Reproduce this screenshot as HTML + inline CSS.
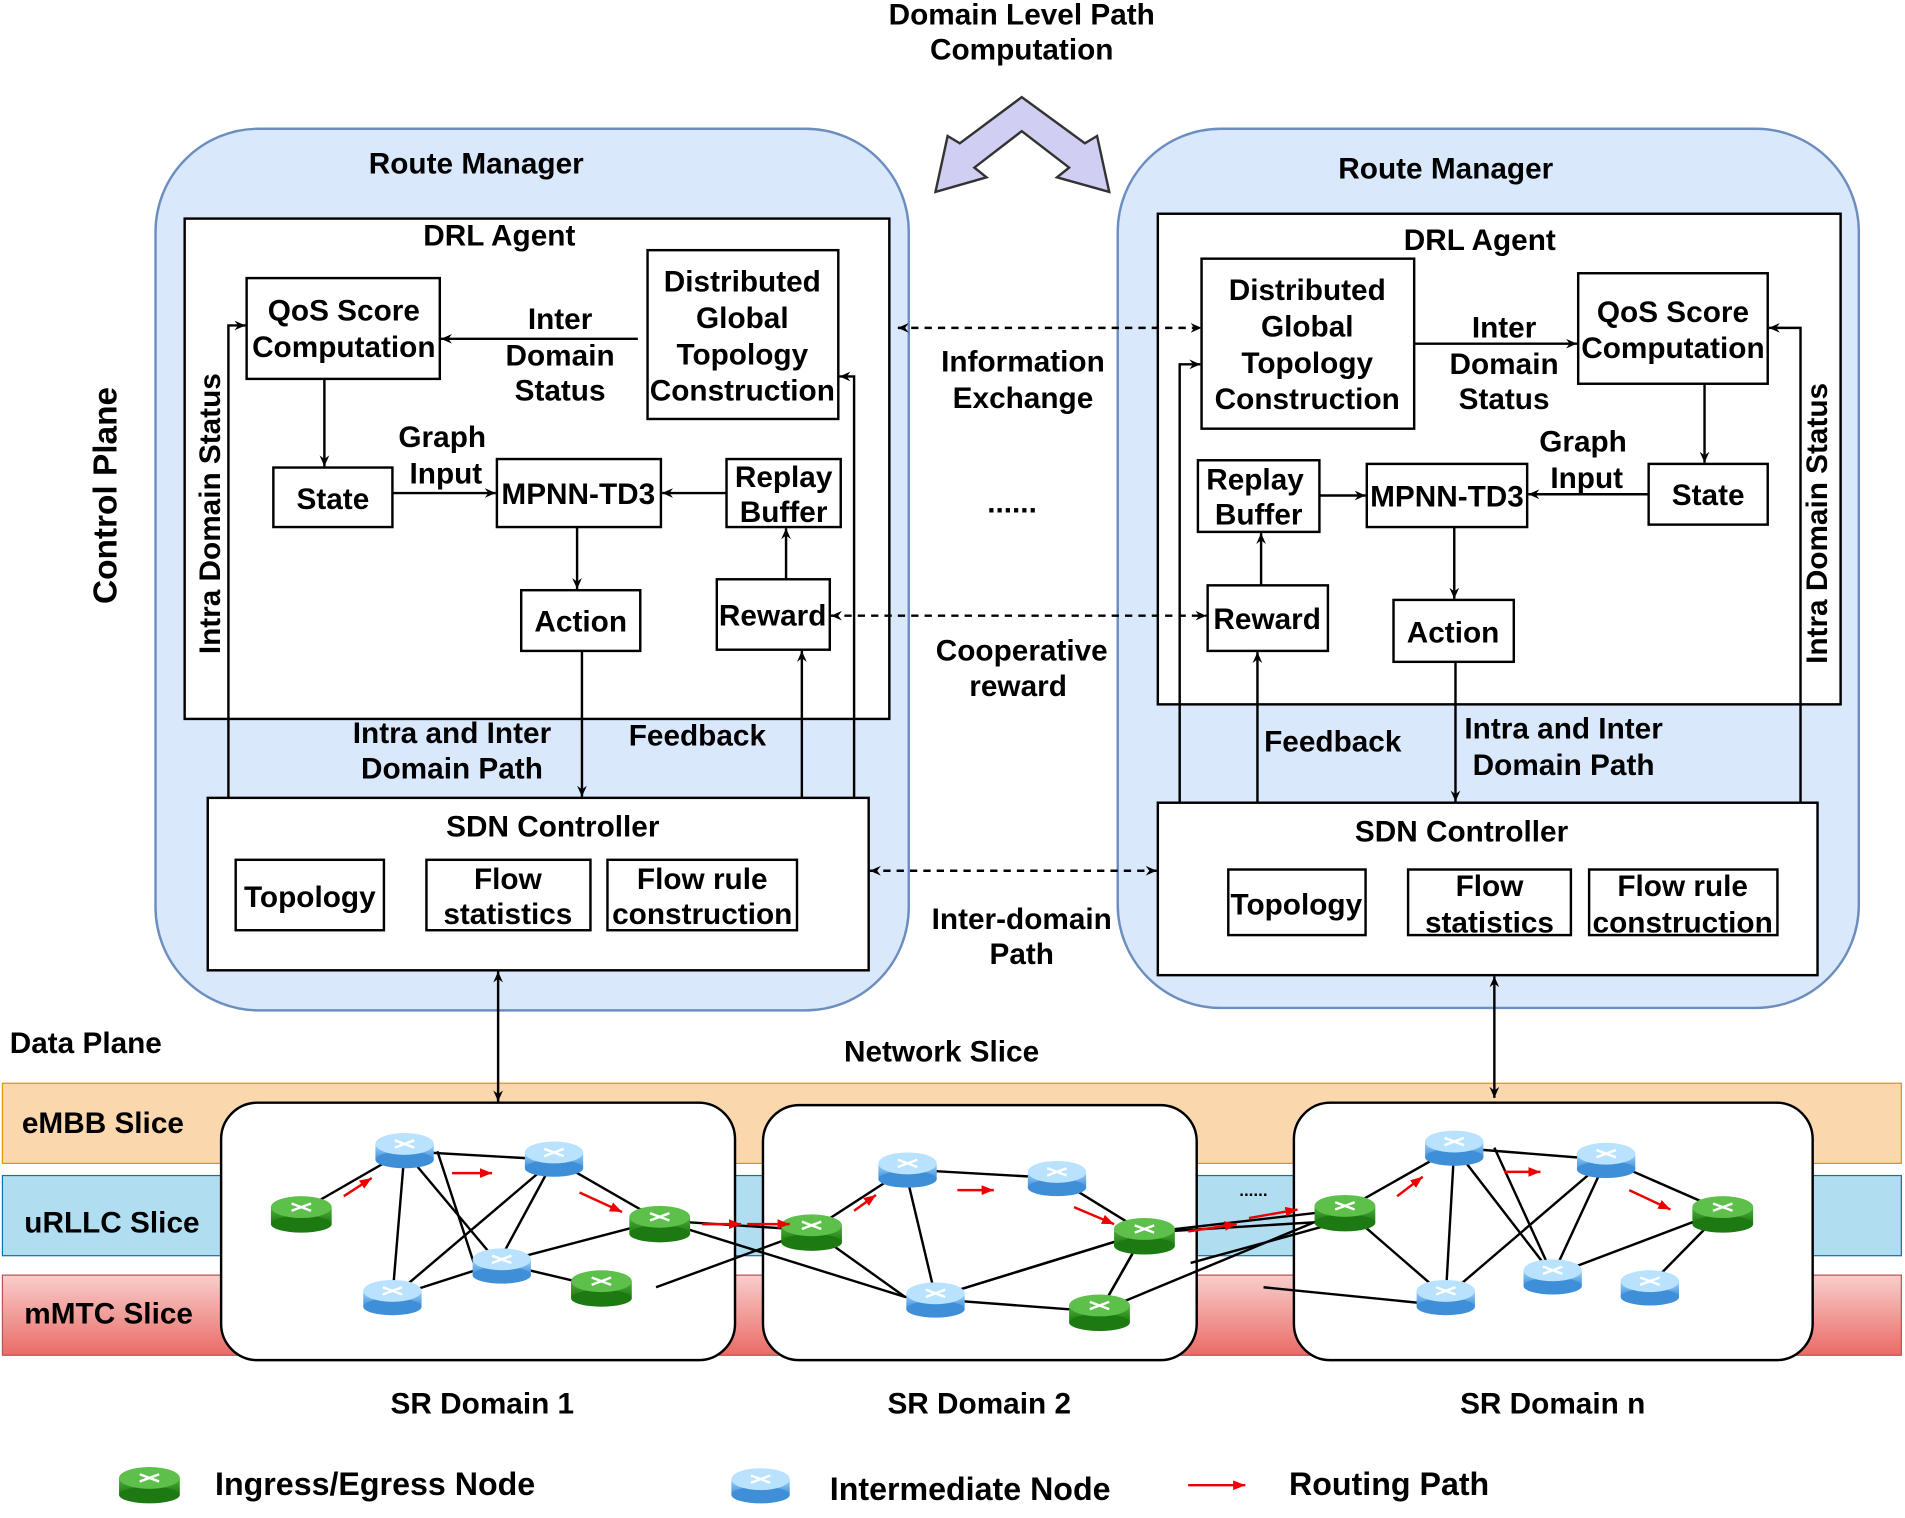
<!DOCTYPE html>
<html><head><meta charset="utf-8"><style>
html,body{margin:0;padding:0;background:#fff;}
svg{display:block;}
text{font-family:"Liberation Sans",Arial,sans-serif;font-weight:bold;fill:#000;}
</style></head><body>
<svg width="1905" height="1518" viewBox="0 0 1568 1250" preserveAspectRatio="none" xmlns="http://www.w3.org/2000/svg">
<defs>
<marker id="a" markerWidth="10" markerHeight="10" refX="9" refY="5" orient="auto" markerUnits="userSpaceOnUse"><path d="M0,1 L9,5 L0,9 L3,5 z" fill="#000"/></marker>
<marker id="as" markerWidth="10" markerHeight="10" refX="1" refY="5" orient="auto" markerUnits="userSpaceOnUse"><path d="M10,1 L1,5 L10,9 L7,5 z" fill="#000"/></marker>
<marker id="r" markerWidth="12" markerHeight="10" refX="10" refY="5" orient="auto" markerUnits="userSpaceOnUse"><path d="M0,1 L10,5 L0,9 z" fill="#e00"/></marker>
<linearGradient id="m" x1="0" y1="0" x2="0" y2="1"><stop offset="0" stop-color="#f8cecc"/><stop offset="1" stop-color="#ea6b66"/></linearGradient>
<linearGradient id="gr" x1="0" y1="0" x2="0" y2="1"><stop offset="0" stop-color="#4caf3a"/><stop offset="1" stop-color="#1d7a12"/></linearGradient>
<linearGradient id="bl" x1="0" y1="0" x2="0" y2="1"><stop offset="0" stop-color="#9fd3fb"/><stop offset="1" stop-color="#3f8fd8"/></linearGradient>
<g id="g"><rect x="-25" y="-3" width="50" height="14" fill="url(#gr)"/><ellipse cx="0" cy="11" rx="25" ry="7" fill="#1d7a12"/><ellipse cx="0" cy="-3" rx="25" ry="9" fill="#5cc04a"/><path d="M-8,-6 L8,0 M8,-6 L-8,0" stroke="#fff" stroke-width="2"/></g>
<g id="b"><rect x="-24" y="-3" width="48" height="13" fill="url(#bl)"/><ellipse cx="0" cy="10" rx="24" ry="7" fill="#3f8fd8"/><ellipse cx="0" cy="-3" rx="24" ry="9" fill="#b9e2ff"/><path d="M-8,-6 L8,0 M8,-6 L-8,0" stroke="#fff" stroke-width="2"/></g>
</defs>

<rect x="2" y="892" width="1563" height="66" fill="#fad7ac" stroke="#d79b00" stroke-width="1"/>
<rect x="2" y="968" width="1563" height="66" fill="#b1ddf0" stroke="#10739e" stroke-width="1"/>
<rect x="2" y="1050" width="1563" height="66" fill="url(#m)" stroke="#b85450" stroke-width="1"/>
<text x="18" y="933" font-size="24.5">eMBB Slice</text>
<text x="20" y="1015" font-size="24.5">uRLLC Slice</text>
<text x="20" y="1090" font-size="24.5">mMTC Slice</text>

<rect x="128" y="106" width="620" height="726" rx="85" fill="#dae8fc" stroke="#6c8ebf" stroke-width="2"/>
<rect x="920" y="106" width="610" height="724" rx="85" fill="#dae8fc" stroke="#6c8ebf" stroke-width="2"/>
<text x="392" y="143" font-size="24.5" text-anchor="middle">Route Manager</text>
<text x="1190" y="147" font-size="24.5" text-anchor="middle">Route Manager</text>

<rect x="152" y="180" width="580" height="412" fill="#fff" stroke="#000" stroke-width="2"/>
<rect x="953" y="176" width="562" height="404" fill="#fff" stroke="#000" stroke-width="2"/>
<text x="411" y="202" font-size="24.5" text-anchor="middle">DRL Agent</text>
<text x="1218" y="206" font-size="24.5" text-anchor="middle">DRL Agent</text>

<g fill="#fff" stroke="#000" stroke-width="2">
<rect x="203" y="229" width="159" height="83"/>
<rect x="533" y="206" width="157" height="139"/>
<rect x="225" y="385" width="98" height="49"/>
<rect x="409" y="378" width="135" height="56"/>
<rect x="598" y="378" width="94" height="56"/>
<rect x="429" y="486" width="98" height="50"/>
<rect x="590" y="477" width="93" height="58"/>
<rect x="171" y="657" width="544" height="142"/>
<rect x="194" y="708" width="122" height="58"/>
<rect x="351" y="708" width="135" height="58"/>
<rect x="500" y="708" width="156" height="58"/>
<rect x="989" y="213" width="175" height="140"/>
<rect x="1299" y="225" width="156" height="91"/>
<rect x="986" y="379" width="100" height="59"/>
<rect x="1125" y="382" width="132" height="52"/>
<rect x="1357" y="382" width="98" height="50"/>
<rect x="994" y="482" width="99" height="54"/>
<rect x="1147" y="494" width="99" height="51"/>
<rect x="953" y="661" width="543" height="142"/>
<rect x="1011" y="716" width="113" height="54"/>
<rect x="1159" y="716" width="134" height="54"/>
<rect x="1308" y="716" width="155" height="54"/>
</g>

<g font-size="24.5" text-anchor="middle">
<text x="283" y="264">QoS Score</text><text x="283" y="294">Computation</text>
<text x="611" y="240">Distributed</text><text x="611" y="270">Global</text><text x="611" y="300">Topology</text><text x="611" y="330">Construction</text>
<text x="274" y="419">State</text>
<text x="476" y="415">MPNN-TD3</text>
<text x="645" y="401">Replay</text><text x="645" y="430">Buffer</text>
<text x="478" y="520">Action</text>
<text x="636" y="515">Reward</text>
<text x="461" y="271">Inter</text><text x="461" y="301">Domain</text><text x="461" y="330">Status</text>
<text x="364" y="368">Graph</text><text x="367" y="398">Input</text>
<text x="372" y="612">Intra and Inter</text><text x="372" y="641">Domain Path</text>
<text x="574" y="614">Feedback</text>
<text x="455" y="689">SDN Controller</text>
<text x="255" y="747">Topology</text>
<text x="418" y="732">Flow</text><text x="418" y="761">statistics</text>
<text x="578" y="732">Flow rule</text><text x="578" y="761">construction</text>

<text x="1076" y="247">Distributed</text><text x="1076" y="277">Global</text><text x="1076" y="307">Topology</text><text x="1076" y="337">Construction</text>
<text x="1377" y="265">QoS Score</text><text x="1377" y="295">Computation</text>
<text x="1033" y="403">Replay</text><text x="1036" y="432">Buffer</text>
<text x="1191" y="417">MPNN-TD3</text>
<text x="1406" y="416">State</text>
<text x="1043" y="518">Reward</text>
<text x="1196" y="529">Action</text>
<text x="1238" y="278">Inter</text><text x="1238" y="308">Domain</text><text x="1238" y="337">Status</text>
<text x="1303" y="372">Graph</text><text x="1306" y="402">Input</text>
<text x="1097" y="619">Feedback</text>
<text x="1287" y="608">Intra and Inter</text><text x="1287" y="638">Domain Path</text>
<text x="1203" y="693">SDN Controller</text>
<text x="1067" y="753">Topology</text>
<text x="1226" y="738">Flow</text><text x="1226" y="768">statistics</text>
<text x="1385" y="738">Flow rule</text><text x="1385" y="768">construction</text>

<text x="841" y="20">Domain Level Path</text><text x="841" y="49">Computation</text>
<text x="842" y="306">Information</text><text x="842" y="336">Exchange</text>
<text x="833" y="422">......</text>
<text x="841" y="544">Cooperative</text><text x="838" y="573">reward</text>
<text x="841" y="765">Inter-domain</text><text x="841" y="794">Path</text>
<text x="775" y="874">Network Slice</text>
<text x="397" y="1164">SR Domain 1</text>
<text x="806" y="1164">SR Domain 2</text>
<text x="1278" y="1164">SR Domain n</text>
</g>
<text x="8" y="867" font-size="24.5">Data Plane</text>
<text transform="translate(96,408) rotate(-90)" font-size="27.5" text-anchor="middle">Control Plane</text>
<text transform="translate(181,423) rotate(-90)" font-size="24.5" text-anchor="middle">Intra Domain Status</text>
<text transform="translate(1504,431) rotate(-90)" font-size="24.5" text-anchor="middle">Intra Domain Status</text>

<path d="M770,158 L780,112 L790,118 L841,80 L893,118 L903,112 L913,158 L870,146 L880,138 L841,108 L802,138 L812,146 Z" fill="#d0cef2" stroke="#333" stroke-width="2"/>

<g stroke="#000" stroke-width="2" fill="none" marker-end="url(#a)">
<path d="M525,279 H363"/>
<path d="M267,312 V384"/>
<path d="M323,406 H408"/>
<path d="M598,406 H545"/>
<path d="M475,434 V485"/>
<path d="M647,477 V435"/>
<path d="M479,536 V656"/>
<path d="M660,657 V536"/>
<path d="M703,657 V310 H691"/>
<path d="M188,657 V268 H202"/>
<path d="M1164,283 H1298"/>
<path d="M1403,316 V381"/>
<path d="M1357,407 H1258"/>
<path d="M1086,408 H1124"/>
<path d="M1038,482 V439"/>
<path d="M1197,434 V493"/>
<path d="M1198,545 V660"/>
<path d="M1035,661 V537"/>
<path d="M971,661 V300 H988"/>
<path d="M1482,661 V270 H1456"/>
<path d="M410,800 V907" marker-start="url(#as)"/>
<path d="M1230,804 V904" marker-start="url(#as)"/>
</g>
<g stroke="#000" stroke-width="2" fill="none" stroke-dasharray="6,5" marker-end="url(#a)" marker-start="url(#as)">
<path d="M739,270 H989"/>
<path d="M684,507 H993"/>
<path d="M716,717 H952"/>
</g>

<g fill="#fff" stroke="#000" stroke-width="2">
<rect x="182" y="908" width="423" height="212" rx="30"/>
<rect x="628" y="910" width="357" height="210" rx="30"/>
<rect x="1065" y="908" width="427" height="212" rx="30"/>
</g>
<g stroke="#000" stroke-width="2" fill="none">
<path d="M248,997 L333,948 L456,955 L543,1005 L668,1013 L745,963 L869,970 L942,1015 L1107,996 L1197,945 L1322,955 L1418,997"/>
<path d="M333,948 L323,1068 L456,955 L410,1040 L333,948 M323,1068 L410,1040 L543,1005 M360,948 L390,1040"/>
<path d="M410,1040 L495,1060 M540,1060 L668,1013 M543,1005 L745,1068 L905,1080 L942,1015 L770,1068 L745,963"/>
<path d="M668,1013 L745,1068 M770,1068 L942,1015 M942,1015 L905,1080 M905,1080 L1107,996 M942,1015 L1107,1005"/>
<path d="M1107,996 L1190,1068 L1197,945 L1278,1050 L1322,955 L1190,1068 M1230,945 L1278,1050 L1418,997 L1358,1058 M1418,997 L1278,1050"/>
<path d="M980,1040 L1107,1005 M1040,1060 L1190,1075"/>
</g>
<use href="#g" x="248" y="997"/><use href="#b" x="333" y="945"/><use href="#b" x="456" y="952"/>
<use href="#g" x="543" y="1005"/><use href="#b" x="323" y="1066"/><use href="#b" x="413" y="1040"/>
<use href="#g" x="495" y="1058"/>
<use href="#g" x="668" y="1012"/><use href="#b" x="747" y="961"/><use href="#b" x="870" y="968"/>
<use href="#g" x="942" y="1015"/><use href="#b" x="770" y="1068"/><use href="#g" x="905" y="1078"/>
<use href="#g" x="1107" y="996"/><use href="#b" x="1197" y="943"/><use href="#b" x="1322" y="953"/>
<use href="#g" x="1418" y="997"/><use href="#b" x="1190" y="1066"/><use href="#b" x="1278" y="1049"/>
<use href="#b" x="1358" y="1058"/>
<g stroke="#e00" stroke-width="2" marker-end="url(#r)">
<path d="M283,985 L306,970"/><path d="M372,966 L405,966"/><path d="M477,982 L512,998"/>
<path d="M578,1008 L610,1008"/><path d="M615,1008 L650,1008"/>
<path d="M703,997 L721,984"/><path d="M788,980 L818,980"/><path d="M884,994 L917,1008"/>
<path d="M978,1014 L1018,1008"/><path d="M1028,1003 L1068,996"/>
<path d="M1150,985 L1171,969"/><path d="M1238,965 L1268,965"/><path d="M1341,980 L1375,996"/>
</g>
<text x="1020" y="985" font-size="14">......</text>

<use href="#g" x="123" y="1220"/>
<text x="177" y="1231" font-size="26.5">Ingress/Egress Node</text>
<use href="#b" x="626" y="1221"/>
<text x="683" y="1235" font-size="26.5">Intermediate Node</text>
<path d="M978,1223 L1025,1223" stroke="#e00" stroke-width="2" marker-end="url(#r)"/>
<text x="1061" y="1231" font-size="26.5">Routing Path</text>
</svg>
</body></html>
